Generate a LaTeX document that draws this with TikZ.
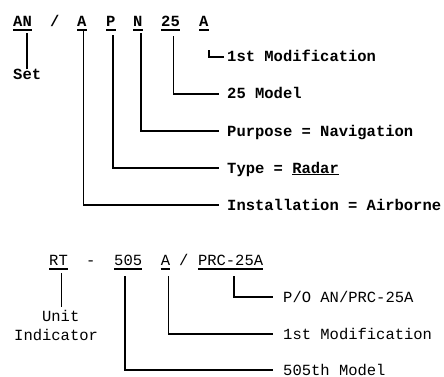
\documentclass[tikz,border=0pt]{standalone}
\usepackage{fontspec}
\setmonofont{Liberation Mono}
\usepackage{tikz}
\usetikzlibrary{
	positioning
}
\tikzset{
	code/.style={font=\ttfamily\bfseries\fontsize{15.5}{19}\selectfont, inner sep=0pt, anchor=base west},
	codelight/.style={font=\ttfamily\fontsize{15.5}{19}\selectfont, inner sep=0pt, anchor=base west},
	tag/.style={font=\ttfamily\bfseries\fontsize{15.5}{19}\selectfont, inner sep=0pt, anchor=west, text height=10pt, text depth=0pt},
	taglight/.style={font=\ttfamily\fontsize{15.5}{19}\selectfont, inner sep=0pt, anchor=west, text height=10pt, text depth=0pt},
	uline/.style={line width=1.2pt},
	lead/.style={line width=1.7pt}
}

\begin{document}
\begin{tikzpicture}[x=1pt,y=-1pt]
	\useasboundingbox (0,0) rectangle (444,377);
	
	% 上面的代号
	\foreach \n/\t/\x in {an/AN/13,a/A/77,p/P/106,n/N/133,nr/25/161,m/A/199}
	{\node[code] (\n) at (\x,27) {\t};
	\draw[uline] ([yshift=-3pt]\n.base west) -- ([yshift=-3pt]\n.base east);}
	\node[code] (sa) at (50,27) {/};
	
	% 上面的说明
	\node[code] (set) at (13,80) {Set};
	\foreach \n/\t/\y in {l1/1st Modification/57,l2/25 Model/94,l3/Purpose = Navigation/131,l4/Type = \underline{Radar}/168,l5/Installation = Airborne/205}
	\node[tag] (\n) at (227,\y) {\t};
	
	% 上面的引线
	\draw[lead] (set.north) -- ([yshift=-6pt]set.north |- an.south);
	\foreach \c/\l/\g/\s/\d in {m/l1/3/5/23,nr/l2/8/3/9,n/l3/8/3/6,p/l4/8/2/8,a/l5/8/1.5/4}
	\draw[lead] ([xshift=\s pt,yshift=-\d pt]\c.south) -- ([xshift=\s pt]\c.south |- \l.west) -- ([xshift=-\g pt]\l.west);
	
	% 下面的代号
	\foreach \n/\t/\x in {rt/RT/49,mn/505/114,md/A/160.6,pr/PRC-25A/197.8}
	{\node[codelight] (\n) at (\x,265) {\t};
	\draw[uline] ([yshift=-4pt]\n.base west) -- ([yshift=-4pt]\n.base east);}
	\node[codelight] (dh) at (86,265) {-};
	\node[codelight] (sb) at (179,265) {/};
	
	% 下面的说明
	\node[codelight, anchor=north west, align=left] (ui) at (14,310) {\phantom{Ind}Unit\\Indicator};
	\foreach \n/\t/\y in {b1/{P/O AN/PRC-25A}/297,b2/1st Modification/334,b3/505th Model/370}
	\node[taglight] (\n) at (283,\y) {\t};
	
	% 下面的引线
	\draw[lead] ([xshift=3pt,yshift=-8pt]rt.south) -- ([xshift=3pt,yshift=3pt]rt.south |- ui.north);
	\foreach \c/\l/\s in {pr/b1/3.5,md/b2/3,mn/b3/-3}
	\draw[lead] ([xshift=\s pt,yshift=-11pt]\c.south) -- ([xshift=\s pt]\c.south |- \l.west) -- ([xshift=-10pt]\l.west);
\end{tikzpicture}
\end{document}
